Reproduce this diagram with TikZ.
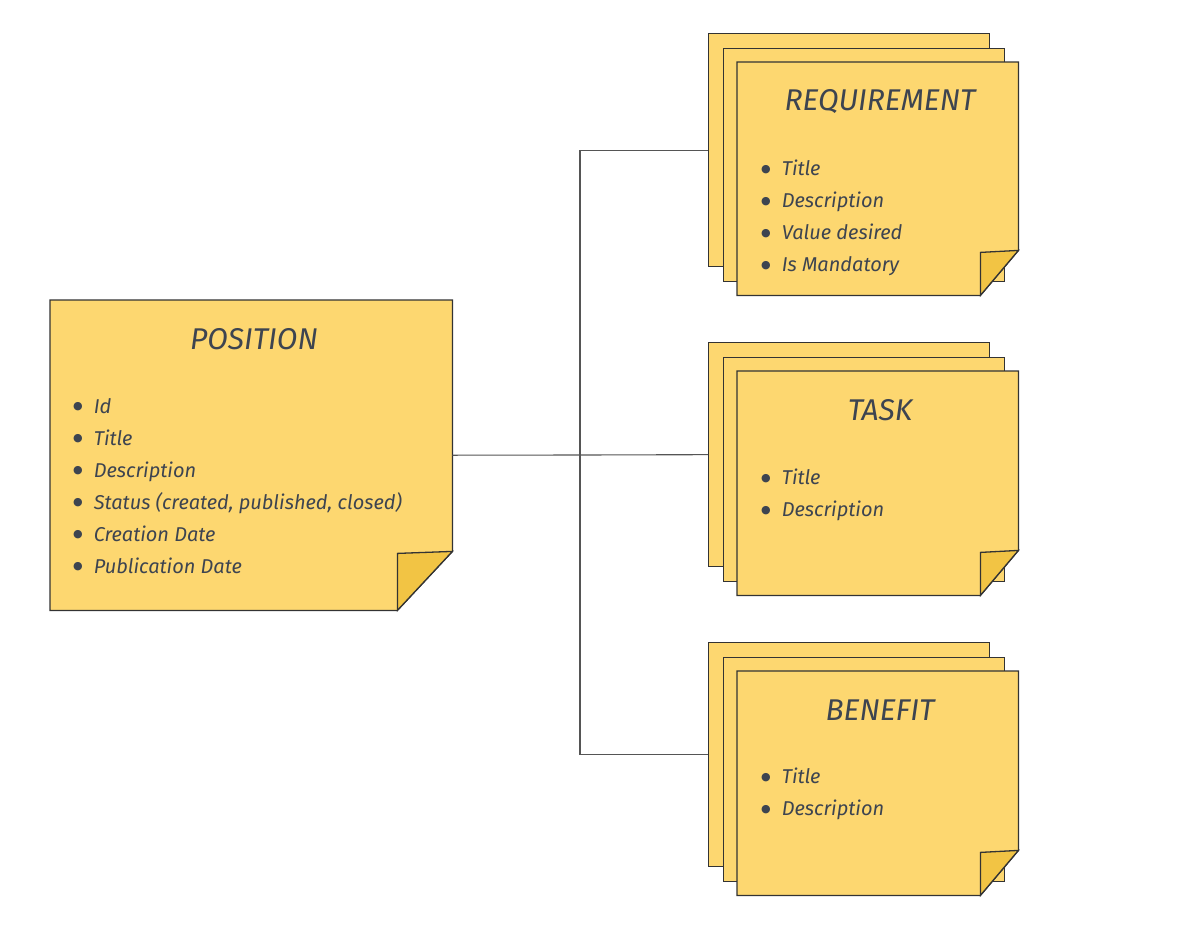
\documentclass[tikz,border=0pt]{standalone}
\usepackage{fontspec}
\setmainfont{Fira Sans}
\newfontfamily\symfont{DejaVu Sans}
\usepackage{xcolor}
\definecolor{note}{HTML}{FDD770}
\definecolor{fold}{HTML}{F2C444}
\definecolor{ink}{HTML}{3D4450}
\definecolor{edge}{HTML}{333333}
\definecolor{wire}{HTML}{555555}
\usetikzlibrary{positioning}
\newcommand{\dotitem}{\raisebox{3.5pt}{\symfont\fontsize{11}{12}\selectfont ●}\hspace{11pt}}

\tikzset{
  sheet/.style={draw=edge, fill=note, line width=1.3pt},
  blank/.style={rectangle, inner sep=0pt, minimum width=281pt, minimum height=224pt, anchor=north west},
  heading/.style={font=\fontsize{30}{34}\selectfont\itshape, text=ink},
  items/.style={font=\fontsize{20}{32}\selectfont\itshape, text=ink, align=left, anchor=north west, inner sep=0pt},
  wire/.style={draw=wire, line width=1.1pt},
}

\begin{document}
\begin{tikzpicture}[x=1pt,y=-1pt]
  \useasboundingbox (0,0) rectangle (1197,927);
  \fill[white] (0,0) rectangle (1197,927);

  % position card
  \node[blank, minimum width=402pt, minimum height=310pt] (pos) at (50,300) {};
  \filldraw[sheet] (pos.north west) -- (pos.north east) -- ([yshift=59pt]pos.south east)
    -- ([xshift=-55pt]pos.south east) -- (pos.south west) -- cycle;
  \filldraw[sheet, fill=fold] ([xshift=-55pt]pos.south east) -- ([xshift=-55pt,yshift=57pt]pos.south east)
    -- ([yshift=59pt]pos.south east) -- cycle;
  \node[heading] (post) at (254,339) {POSITION};
  \node[items] (posi) at (73,398) {\dotitem Id\\
    \dotitem Title\\
    \dotitem Description\\
    \dotitem Status (created, published, closed)\\
    \dotitem Creation Date\\
    \dotitem Publication Date};

  % requirement stack
  \node[blank, sheet, minimum height=233pt] (req3) at (708,33) {};
  \node[blank, sheet, minimum height=233pt] (req2) at (723,48) {};
  \node[blank, minimum height=233pt] (req1) at (737,62) {};
  \filldraw[sheet] (req1.north west) -- (req1.north east) -- ([yshift=45pt]req1.south east)
    -- ([xshift=-38pt]req1.south east) -- (req1.south west) -- cycle;
  \filldraw[sheet, fill=fold] ([xshift=-38pt]req1.south east) -- ([xshift=-38pt,yshift=43pt]req1.south east)
    -- ([yshift=45pt]req1.south east) -- cycle;
  \node[heading] (reqt) at (880,102) {REQUIREMENT};
  \node[items] (reqi) at (761,160) {\dotitem Title\\
    \dotitem Description\\
    \dotitem Value desired\\
    \dotitem Is Mandatory};

  % task stack
  \node[blank, sheet] (task3) at (708,342) {};
  \node[blank, sheet] (task2) at (723,357) {};
  \node[blank] (task1) at (737,371) {};
  \filldraw[sheet] (task1.north west) -- (task1.north east) -- ([yshift=45pt]task1.south east)
    -- ([xshift=-38pt]task1.south east) -- (task1.south west) -- cycle;
  \filldraw[sheet, fill=fold] ([xshift=-38pt]task1.south east) -- ([xshift=-38pt,yshift=43pt]task1.south east)
    -- ([yshift=45pt]task1.south east) -- cycle;
  \node[heading] (taskt) at (880,410) {TASK};
  \node[items] (taski) at (761,469) {\dotitem Title\\
    \dotitem Description};

  % benefit stack
  \node[blank, sheet] (ben3) at (708,642) {};
  \node[blank, sheet] (ben2) at (723,657) {};
  \node[blank] (ben1) at (737,671) {};
  \filldraw[sheet] (ben1.north west) -- (ben1.north east) -- ([yshift=45pt]ben1.south east)
    -- ([xshift=-38pt]ben1.south east) -- (ben1.south west) -- cycle;
  \filldraw[sheet, fill=fold] ([xshift=-38pt]ben1.south east) -- ([xshift=-38pt,yshift=43pt]ben1.south east)
    -- ([yshift=45pt]ben1.south east) -- cycle;
  \node[heading] (bent) at (880,710) {BENEFIT};
  \node[items] (beni) at (761,768) {\dotitem Title\\
    \dotitem Description};

  % links
  \coordinate (hub) at (580,455);
  \draw[wire] (pos.east) -- (hub);
  \draw[wire] (hub) |- (req3.west);
  \draw[wire] (hub) -- (task3.west);
  \draw[wire] (hub) |- (ben3.west);
\end{tikzpicture}
\end{document}
